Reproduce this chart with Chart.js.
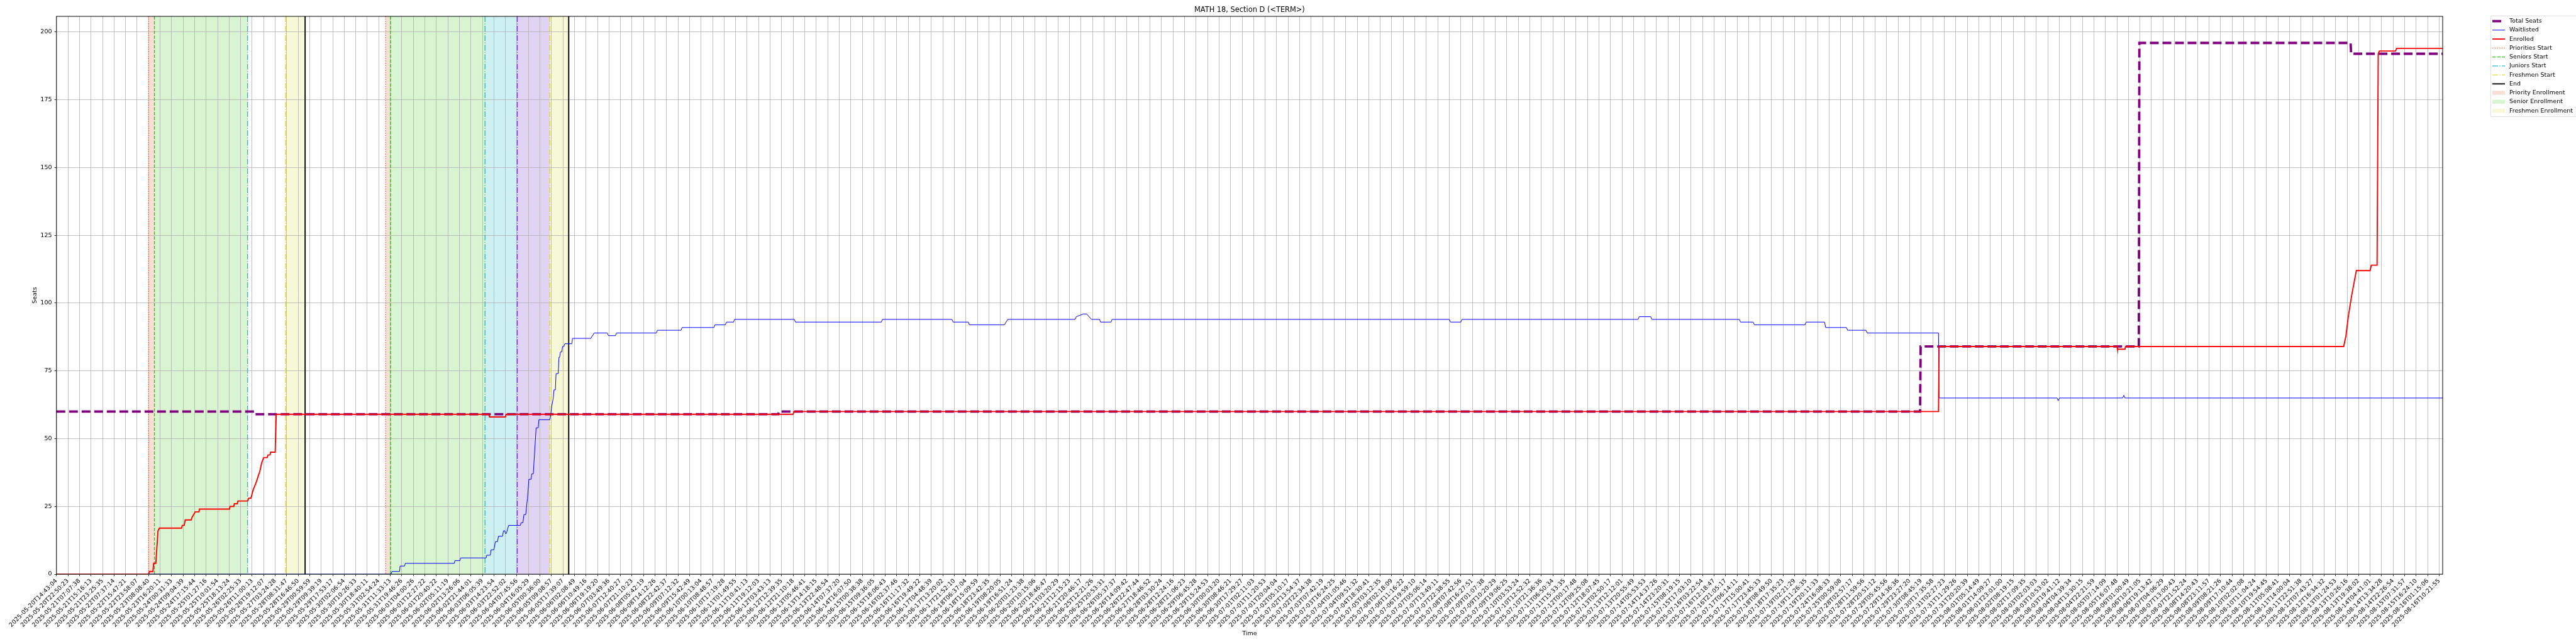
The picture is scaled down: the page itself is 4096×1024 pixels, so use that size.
<!DOCTYPE html>
<html lang="en">
<head>
<meta charset="UTF-8">
<title>MATH 18, Section D (&lt;TERM&gt;)</title>
<script src="https://cdn.jsdelivr.net/npm/chart.js"></script>
<style>
    html, body { margin: 0; padding: 0; background: #ffffff; }
    canvas { display: block; }
</style>
</head>
<body>
<canvas id="seatsChart" width="4096" height="1024"></canvas>
<script>
    // tick labels (one per tick, tick i sits at x = i)
    const tickLabels = [
        "2025-05-20T14:43:04","2025-05-20T22:50:23","2025-05-21T07:07:38","2025-05-21T15:16:13","2025-05-21T23:25:35",
        "2025-05-22T07:37:14","2025-05-22T15:47:21","2025-05-22T23:58:07","2025-05-23T08:08:40","2025-05-23T16:20:11",
        "2025-05-24T00:31:33","2025-05-24T09:04:39","2025-05-24T17:15:44","2025-05-25T01:27:16","2025-05-25T10:01:54",
        "2025-05-25T18:13:24","2025-05-26T02:25:33","2025-05-26T11:00:13","2025-05-26T19:12:07","2025-05-27T03:24:28",
        "2025-05-28T08:31:47","2025-05-28T16:46:50","2025-05-29T00:59:59","2025-05-29T09:39:19","2025-05-29T17:53:17",
        "2025-05-30T02:06:54","2025-05-30T10:26:33","2025-05-30T18:40:11","2025-05-31T02:54:24","2025-05-31T11:33:13",
        "2025-05-31T19:46:26","2025-06-01T04:00:26","2025-06-01T12:27:22","2025-06-01T20:40:22","2025-06-02T05:11:19",
        "2025-06-02T13:26:06","2025-06-02T21:44:01","2025-06-03T06:05:39","2025-06-03T14:23:54","2025-06-03T22:52:02",
        "2025-06-04T07:45:56","2025-06-04T16:05:29","2025-06-05T00:36:00","2025-06-05T09:08:57","2025-06-05T17:39:07",
        "2025-06-06T02:08:49","2025-06-06T10:49:16","2025-06-06T19:19:20","2025-06-07T03:49:36","2025-06-07T12:40:27",
        "2025-06-07T21:10:23","2025-06-08T05:42:19","2025-06-08T14:12:26","2025-06-08T22:42:37","2025-06-09T07:12:32",
        "2025-06-09T15:42:49","2025-06-10T00:13:04","2025-06-10T08:48:57","2025-06-10T17:19:28","2025-06-11T01:49:55",
        "2025-06-11T10:41:13","2025-06-11T19:12:03","2025-06-12T03:43:13","2025-06-12T12:39:35","2025-06-12T21:10:18",
        "2025-06-13T05:46:41","2025-06-13T14:18:15","2025-06-13T22:48:54","2025-06-14T07:37:20","2025-06-14T16:07:50",
        "2025-06-15T00:38:38","2025-06-15T09:36:05","2025-06-15T18:06:43","2025-06-16T02:37:46","2025-06-16T11:17:32",
        "2025-06-16T19:49:22","2025-06-17T04:48:39","2025-06-17T13:20:02","2025-06-17T21:52:10","2025-06-18T06:37:04",
        "2025-06-18T15:09:59","2025-06-18T23:42:35","2025-06-19T08:20:05","2025-06-19T16:51:24","2025-06-20T01:23:38",
        "2025-06-20T10:15:06","2025-06-20T18:46:47","2025-06-21T03:20:29","2025-06-21T12:15:23","2025-06-21T20:46:17",
        "2025-06-25T12:21:26","2025-06-25T20:53:31","2025-06-26T05:37:37","2025-06-26T14:09:42","2025-06-26T22:47:44",
        "2025-06-27T18:46:52","2025-06-28T03:30:24","2025-06-28T12:24:16","2025-06-28T21:06:23","2025-06-29T06:45:28",
        "2025-06-29T15:24:53","2025-06-30T00:03:20","2025-06-30T08:46:21","2025-06-30T17:29:27","2025-07-01T02:11:03",
        "2025-07-01T11:20:53","2025-07-01T20:04:04","2025-07-02T05:10:17","2025-07-02T13:54:37","2025-07-02T22:34:38",
        "2025-07-03T07:42:19","2025-07-03T16:24:25","2025-07-04T01:05:46","2025-07-04T09:51:32","2025-07-04T18:30:41",
        "2025-07-05T03:12:35","2025-07-06T02:18:09","2025-07-06T11:16:22","2025-07-06T19:59:10","2025-07-07T05:06:14",
        "2025-07-07T13:49:11","2025-07-07T22:38:55","2025-07-08T07:42:56","2025-07-08T16:27:51","2025-07-09T01:07:38",
        "2025-07-09T10:20:29","2025-07-09T19:06:25","2025-07-10T03:53:24","2025-07-10T12:52:32","2025-07-10T21:36:36",
        "2025-07-11T06:50:34","2025-07-11T15:33:35","2025-07-12T00:17:48","2025-07-12T09:25:08","2025-07-12T18:07:45",
        "2025-07-13T02:50:17","2025-07-13T12:12:01","2025-07-13T20:55:49","2025-07-14T05:53:53","2025-07-14T14:37:26",
        "2025-07-14T23:20:31","2025-07-15T08:19:15","2025-07-15T17:03:10","2025-07-16T03:22:54","2025-07-16T12:18:47",
        "2025-07-16T21:05:17","2025-07-17T06:14:11","2025-07-17T15:00:41","2025-07-17T23:45:33","2025-07-18T08:49:50",
        "2025-07-18T17:35:23","2025-07-19T02:21:29","2025-07-19T11:26:35","2025-07-19T20:11:33","2025-07-24T16:08:33",
        "2025-07-25T00:59:08","2025-07-28T02:57:17","2025-07-28T11:59:56","2025-07-28T20:51:12","2025-07-29T05:45:56",
        "2025-07-29T14:36:36","2025-07-29T23:27:20","2025-07-30T08:45:19","2025-07-30T17:35:58","2025-07-31T02:27:23",
        "2025-07-31T11:29:26","2025-07-31T20:20:39","2025-08-01T05:14:49","2025-08-01T14:09:27","2025-08-01T23:01:00",
        "2025-08-02T08:19:15","2025-08-02T17:09:35","2025-08-03T02:03:03","2025-08-03T10:53:02","2025-08-03T19:41:12",
        "2025-08-04T04:39:34","2025-08-04T13:30:15","2025-08-04T22:21:59","2025-08-05T07:14:09","2025-08-05T16:07:48",
        "2025-08-06T01:00:49","2025-08-06T10:21:05","2025-08-06T19:13:42","2025-08-07T04:06:29","2025-08-07T13:00:43",
        "2025-08-07T21:52:24","2025-08-08T14:20:43","2025-08-08T23:11:57","2025-08-09T08:21:26","2025-08-09T17:10:44",
        "2025-08-10T02:02:08","2025-08-10T11:04:24","2025-08-10T19:54:45","2025-08-11T05:08:41","2025-08-11T14:00:04",
        "2025-08-11T22:51:38","2025-08-12T07:43:27","2025-08-12T16:34:32","2025-08-13T01:24:53","2025-08-13T10:26:16",
        "2025-08-13T19:38:02","2025-08-14T04:41:01","2025-08-14T13:34:28","2025-08-14T22:26:54","2025-08-15T07:31:57",
        "2025-08-15T16:24:10","2025-08-16T01:15:06","2025-08-16T10:21:55"
    ];
    const xEnd = 207.3;
    const yTicks = [0, 25, 50, 75, 100, 125, 150, 175, 200];
    const yMax = 205.8;

    // Total Seats
    const seatsIdx = [0, 17.2, 17.25, 62.7, 62.75, 161.9, 161.95, 180.9, 180.95, 199.3, 199.35, 207.3];
    const seatsVal = [60, 60, 59, 59, 60, 60, 84, 84, 196, 196, 192, 192];

    // Waitlisted
    const waitIdx = [0, 29.06, 29.15, 29.81, 29.85, 30.24, 30.3, 34.56, 34.61, 35.06, 35.11, 37.32, 37.38, 37.69,
        37.75, 38.0, 38.13, 38.31, 38.4, 38.75, 38.83, 38.96, 39.0, 39.08, 39.28, 40.3, 40.36, 40.52, 40.61, 40.77,
        40.86, 40.92, 41.04, 41.23, 41.29, 41.42, 41.67, 41.85, 41.91, 42.85, 42.91, 43.03, 43.16, 43.22, 43.34, 43.4,
        43.59, 43.65, 43.71, 43.78, 43.9, 43.96, 44.09, 44.15, 44.77, 44.83, 46.42, 46.71, 47.85, 47.95, 48.56, 48.65,
        52.12, 52.2, 54.26, 54.35, 57.12, 57.2, 58.11, 58.2, 58.83, 58.9, 64.1, 64.2, 71.66, 71.75, 77.79, 77.9,
        79.22, 79.3, 82.35, 82.64, 88.48, 88.6, 89.2, 89.5, 89.91, 90.62, 90.7, 91.62, 91.7, 121.0, 121.1, 122.0,
        122.1, 137.4, 137.5, 138.5, 138.6, 146.2, 146.3, 147.4, 147.5, 151.9, 152.0, 153.6, 153.7, 155.5, 155.6, 157.2,
        157.3, 163.5, 163.55, 173.8, 173.9, 174.0, 179.5, 179.6, 179.7, 207.3];
    const waitVal = [0, 0, 1, 1, 3, 3, 4, 4, 5, 5, 6, 6, 7, 7,
        9, 9, 12, 12, 14, 14, 16, 16, 15, 15, 18, 18, 19, 19, 22, 22,
        26, 28, 35, 35, 37, 37, 54, 54, 57, 57, 58, 62, 65, 68, 68, 74,
        74, 80, 80, 82, 82, 84, 84, 85, 85, 87, 87, 89, 89, 88, 88, 89,
        89, 90, 90, 91, 91, 92, 92, 93, 93, 94, 94, 93, 93, 94, 94, 93,
        93, 92, 92, 94, 94, 95, 96, 96, 94, 94, 93, 93, 94, 94, 93, 93,
        94, 94, 95, 95, 94, 94, 93, 93, 92, 92, 93, 93, 91, 91, 90, 90,
        89, 89, 65, 65, 64, 65, 65, 66, 65, 65];

    // Enrolled
    const enrolledIdx = [0, 8.01, 8.07, 8.38, 8.44, 8.63, 8.82, 8.94, 10.87, 10.93, 11.1, 11.18, 11.7, 11.78, 11.92,
        12.05, 12.38, 12.42, 15.03, 15.08, 15.4, 15.45, 15.71, 15.76, 16.6, 16.7, 16.89, 17.08, 17.36, 17.51, 17.67,
        17.82, 18.0, 18.3, 18.38, 18.55, 18.6, 19.0, 19.09, 37.56, 37.62, 39.0, 39.06, 64.0, 64.05, 163.5, 163.55,
        179.0, 179.05, 179.7, 179.75, 198.7, 198.9, 199.1, 199.4, 199.8, 201.0, 201.1, 201.6, 201.7, 201.8, 203.2,
        203.3, 207.3];
    const enrolledVal = [0, 0, 1, 1, 4, 4, 16, 17, 17, 18, 18, 20, 20, 21, 22,
        23, 23, 24, 24, 25, 25, 26, 26, 27, 27, 28, 28, 31, 34, 36, 38,
        41, 43, 43, 44, 44, 45, 45, 59, 59, 58, 58, 59, 59, 60, 60, 84,
        84, 83, 83, 84, 84, 88, 95, 103, 112, 112, 114, 114, 192, 193, 193,
        194, 194];

    // period markers (vertical lines) and shaded periods
    const markerIdx = [8.0, 8.51, 16.6, 19.9, 21.6, 28.6, 29.02, 37.23, 40.03, 42.86, 44.5];
    const markerKind = ["priority", "senior", "junior", "freshmen", "end",
                        "priority", "senior", "junior", "sophomore", "freshmen", "end"];
    const spanStart = [8.0, 8.51, 19.9, 28.6, 29.02, 37.23, 40.03, 42.86];
    const spanEnd   = [8.51, 16.6, 21.6, 29.02, 37.23, 40.03, 42.86, 44.5];
    const spanKind  = ["priority", "senior", "freshmen", "priority", "senior", "junior", "sophomore", "freshmen"];

    // styles
    const FONT = "'DejaVu Sans', sans-serif";
    const markerStyle = {
        priority:  { color: '#e0652a', width: 1.4, dash: [1.4, 2.3] },
        senior:    { color: '#33c01a', width: 1.4, dash: [5.3, 2.3] },
        junior:    { color: '#12c6d6', width: 1.4, dash: [9.1, 2.3, 1.4, 2.3] },
        sophomore: { color: '#7a32dc', width: 1.4, dash: [9.1, 2.3, 1.4, 2.3] },
        freshmen:  { color: '#dcdc36', width: 1.4, dash: [9.1, 2.3, 1.4, 2.3] },
        end:       { color: '#000000', width: 1.9, dash: [] }
    };
    const spanColor = {
        priority: '#f7dfd4', senior: '#d9f4d0', junior: '#cdf0f2', sophomore: '#e0d3f4', freshmen: '#f7f8d8'
    };

    const pts = (xs, ys) => xs.map((v, i) => ({ x: v, y: ys[i] }));

    const decor = {
        id: 'decor',
        beforeDraw(chart) {
            const { ctx, chartArea: a, scales: { x } } = chart;
            ctx.save();
            spanStart.forEach((s, i) => {
                const x1 = x.getPixelForValue(s), x2 = x.getPixelForValue(spanEnd[i]);
                ctx.fillStyle = spanColor[spanKind[i]];
                ctx.fillRect(x1, a.top, x2 - x1, a.bottom - a.top);
            });
            ctx.restore();
        },
        beforeDatasetsDraw(chart) {
            const { ctx, chartArea: a, scales: { x } } = chart;
            ctx.save();
            markerIdx.forEach((m, i) => {
                const st = markerStyle[markerKind[i]];
                const px = x.getPixelForValue(m);
                ctx.strokeStyle = st.color;
                ctx.lineWidth = st.width;
                ctx.setLineDash(st.dash);
                ctx.beginPath();
                ctx.moveTo(px, a.top);
                ctx.lineTo(px, a.bottom);
                ctx.stroke();
            });
            ctx.restore();
        },
        afterDraw(chart) {
            const { ctx, chartArea: a } = chart;
            ctx.save();
            // frame
            ctx.strokeStyle = '#000';
            ctx.lineWidth = 1;
            ctx.strokeRect(a.left, a.top, a.right - a.left, a.bottom - a.top);

            // title and axis titles
            ctx.fillStyle = '#000';
            ctx.textAlign = 'center';
            ctx.textBaseline = 'middle';
            ctx.font = `11.4px ${FONT}`;
            ctx.fillText('MATH 18, Section D (<TERM>)', (a.left + a.right) / 2, 15.7);
            ctx.font = `9.5px ${FONT}`;
            ctx.fillText('Time', (a.left + a.right) / 2, 1008);
            ctx.save();
            ctx.translate(56, (a.top + a.bottom) / 2);
            ctx.rotate(-Math.PI / 2);
            ctx.fillText('Seats', 0, 0);
            ctx.restore();

            // legend
            const lx = 3960.4, ly = 25.2, lh = 160.3;
            ctx.fillStyle = 'rgba(255,255,255,0.8)';
            ctx.strokeStyle = '#cccccc';
            ctx.lineWidth = 0.7;
            ctx.beginPath();
            ctx.roundRect(lx, ly, 160, lh, 2);
            ctx.fill();
            ctx.stroke();

            const rows = [
                { label: 'Total Seats', line: { color: '#800080', width: 3.8, dash: [], len: 14 } },
                { label: 'Waitlisted', line: { color: '#0000ff', width: 1, dash: [] } },
                { label: 'Enrolled', line: { color: '#ff0000', width: 1.9, dash: [] } },
                { label: 'Priorities Start', line: markerStyle.priority },
                { label: 'Seniors Start', line: markerStyle.senior },
                { label: 'Juniors Start', line: markerStyle.junior },
                { label: 'Freshmen Start', line: markerStyle.freshmen },
                { label: 'End', line: markerStyle.end },
                { label: 'Priority Enrollment', patch: spanColor.priority },
                { label: 'Senior Enrollment', patch: spanColor.senior },
                { label: 'Freshmen Enrollment', patch: spanColor.freshmen }
            ];
            const hx1 = 3963, hx2 = 3983;
            rows.forEach((r, i) => {
                const y = 33.6 + i * 14.25;
                if (r.line) {
                    ctx.strokeStyle = r.line.color;
                    ctx.lineWidth = r.line.width;
                    ctx.setLineDash(r.line.dash);
                    ctx.beginPath();
                    ctx.moveTo(hx1, y);
                    ctx.lineTo(r.line.len ? hx1 + r.line.len : hx2, y);
                    ctx.stroke();
                    ctx.setLineDash([]);
                } else {
                    ctx.fillStyle = r.patch;
                    ctx.fillRect(hx1, y - 3.2, hx2 - hx1, 6.4);
                }
                ctx.fillStyle = '#000';
                ctx.textAlign = 'left';
                ctx.textBaseline = 'middle';
                ctx.font = `9.5px ${FONT}`;
                ctx.fillText(r.label, 3990, y);
            });
            ctx.restore();
        }
    };

    Chart.defaults.font.family = FONT;
    Chart.defaults.color = '#000';

    new Chart(document.getElementById('seatsChart').getContext('2d'), {
        type: 'line',
        data: {
            datasets: [
                {
                    label: 'Enrolled',
                    data: pts(enrolledIdx, enrolledVal),
                    borderColor: '#ff0000',
                    borderWidth: 1.9
                },
                {
                    label: 'Waitlisted',
                    data: pts(waitIdx, waitVal),
                    borderColor: '#0000ff',
                    borderWidth: 1
                },
                {
                    label: 'Total Seats',
                    data: pts(seatsIdx, seatsVal),
                    borderColor: '#800080',
                    borderWidth: 3.8,
                    borderDash: [14, 6]
                }
            ]
        },
        options: {
            responsive: false,
            animation: false,
            devicePixelRatio: 1,
            elements: {
                point: { radius: 0 },
                line: { tension: 0, borderCapStyle: 'butt', fill: false }
            },
            layout: { padding: { top: 26, right: 212, left: 0, bottom: 0 } },
            scales: {
                x: {
                    type: 'linear',
                    min: 0,
                    max: xEnd,
                    afterBuildTicks: s => { s.ticks = tickLabels.map((_, i) => ({ value: i })); },
                    afterFit: s => { s.height = 111; },
                    ticks: {
                        autoSkip: false,
                        minRotation: 45,
                        maxRotation: 45,
                        padding: 2,
                        font: { size: 9.5 },
                        callback: v => tickLabels[Math.round(v)]
                    },
                    grid: { color: '#b0b0b0', lineWidth: 0.8, tickColor: '#000', tickLength: 3.3 },
                    border: { display: false }
                },
                y: {
                    min: 0,
                    max: yMax,
                    afterBuildTicks: s => { s.ticks = yTicks.map(v => ({ value: v })); },
                    afterFit: s => { s.width = 89.8; },
                    ticks: { padding: 4, font: { size: 9.5 } },
                    grid: { color: '#b0b0b0', lineWidth: 0.8, tickColor: '#000', tickLength: 3.3 },
                    border: { display: false }
                }
            },
            plugins: {
                legend: { display: false },
                tooltip: { enabled: false },
                title: { display: false }
            }
        },
        plugins: [decor]
    });
</script>
</body>
</html>
